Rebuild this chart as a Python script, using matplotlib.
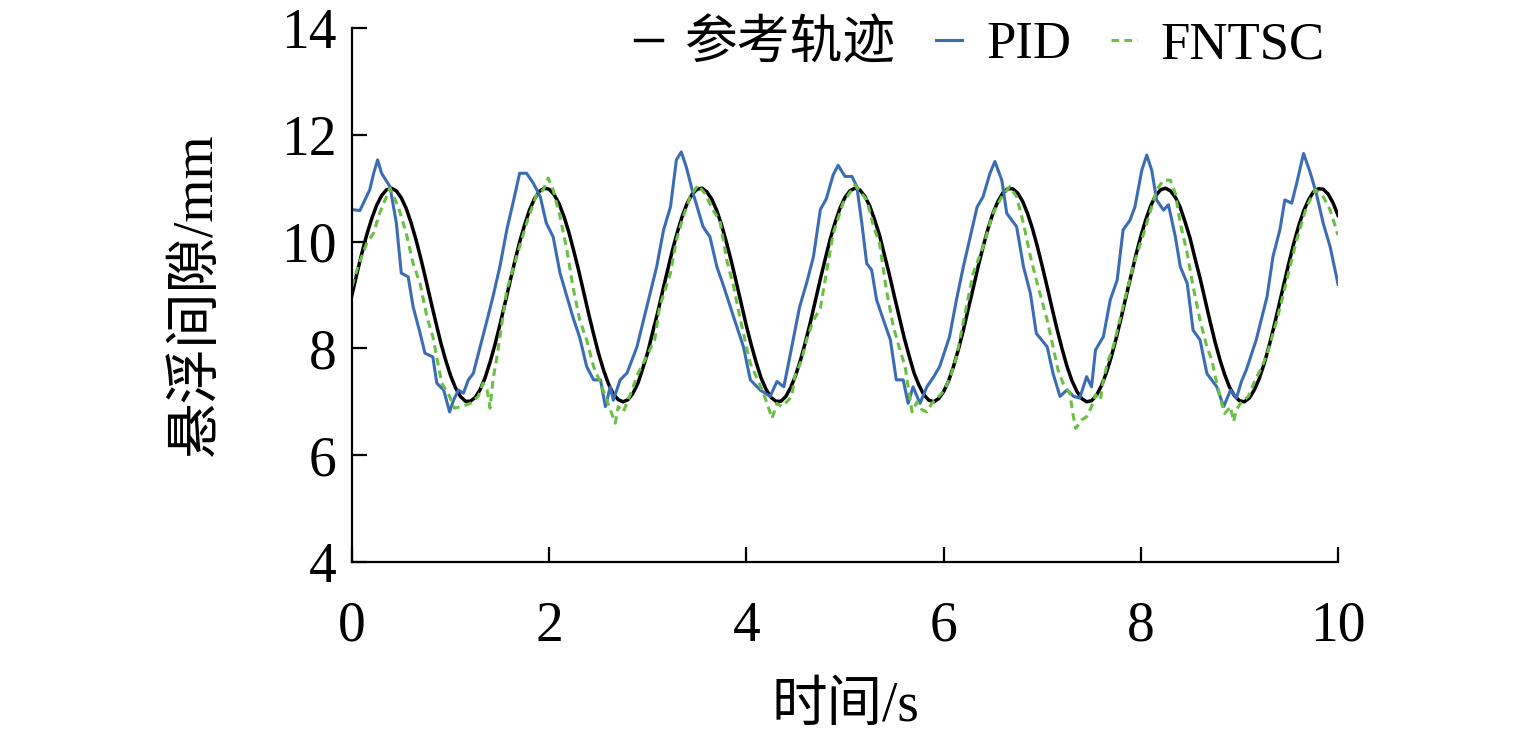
import numpy as np
import matplotlib
matplotlib.use('Agg')
import matplotlib.pyplot as plt

ref_t = [round(0.05 * i, 2) for i in range(201)]
ref_gap = [9.00, 9.40, 9.78, 10.13, 10.43, 10.68, 10.86, 10.97, 11.00, 10.95,
           10.82, 10.62, 10.35, 10.03, 9.67, 9.28, 8.88, 8.49, 8.11, 7.78,
           7.49, 7.26, 7.10, 7.01, 7.01, 7.08, 7.23, 7.45, 7.74, 8.07,
           8.44, 8.83, 9.23, 9.62, 9.99, 10.31, 10.59, 10.80, 10.94, 11.00,
           10.98, 10.88, 10.71, 10.47, 10.17, 9.82, 9.45, 9.05, 8.65, 8.27,
           7.91, 7.60, 7.34, 7.15, 7.04, 7.00, 7.04, 7.16, 7.35, 7.63,
           7.93, 8.31, 8.67, 9.07, 9.46, 9.84, 10.18, 10.48, 10.72, 10.89,
           10.98, 11.00, 10.93, 10.79, 10.58, 10.30, 9.97, 9.61, 9.22, 8.82,
           8.42, 8.06, 7.73, 7.44, 7.23, 7.08, 7.01, 7.01, 7.10, 7.27,
           7.50, 7.79, 8.13, 8.50, 8.90, 9.30, 9.68, 10.05, 10.36, 10.63,
           10.83, 10.95, 11.00, 10.97, 10.85, 10.67, 10.41, 10.12, 9.75, 9.38,
           8.98, 8.59, 8.20, 7.86, 7.54, 7.31, 7.13, 7.03, 7.00, 7.06,
           7.19, 7.39, 7.66, 7.98, 8.34, 8.74, 9.13, 9.53, 9.90, 10.24,
           10.53, 10.75, 10.91, 10.99, 10.99, 10.91, 10.76, 10.53, 10.25, 9.91,
           9.54, 9.15, 8.75, 8.36, 8.00, 7.67, 7.40, 7.20, 7.06, 7.00,
           7.02, 7.12, 7.30, 7.54, 7.84, 8.19, 8.57, 8.97, 9.36, 9.75,
           10.10, 10.41, 10.67, 10.86, 10.97, 11.00, 10.95, 10.83, 10.64, 10.36,
           10.06, 9.68, 9.32, 8.92, 8.52, 8.14, 7.80, 7.51, 7.27, 7.11,
           7.02, 7.00, 7.07, 7.22, 7.43, 7.71, 8.04, 8.41, 8.80, 9.20,
           9.59, 9.96, 10.29, 10.57, 10.78, 10.93, 10.99, 10.98, 10.89, 10.72,
           10.49]

# PID response
pid_t = [0.00, 0.08, 0.18, 0.22, 0.26, 0.30, 0.385, 0.45, 0.50, 0.57,
         0.62, 0.69, 0.74, 0.82, 0.86, 0.93, 0.99, 1.03, 1.08, 1.13,
         1.18, 1.23, 1.30, 1.37, 1.43, 1.50, 1.57, 1.64, 1.70, 1.77,
         1.84, 1.91, 1.97, 2.04, 2.11, 2.18, 2.24, 2.31, 2.38, 2.45,
         2.52, 2.57, 2.62, 2.65, 2.72, 2.79, 2.89, 2.99, 3.09, 3.16,
         3.23, 3.29, 3.34, 3.39, 3.46, 3.56, 3.63, 3.70, 3.77, 3.87,
         3.97, 4.04, 4.14, 4.24, 4.31, 4.38, 4.44, 4.54, 4.61, 4.68,
         4.75, 4.81, 4.88, 4.93, 5.00, 5.07, 5.12, 5.17, 5.22, 5.27,
         5.32, 5.39, 5.46, 5.52, 5.59, 5.64, 5.69, 5.76, 5.83, 5.90,
         5.96, 6.06, 6.13, 6.20, 6.27, 6.34, 6.40, 6.47, 6.52, 6.59,
         6.64, 6.74, 6.81, 6.88, 6.94, 7.05, 7.11, 7.18, 7.25, 7.32,
         7.38, 7.45, 7.50, 7.54, 7.62, 7.69, 7.76, 7.82, 7.89, 7.94,
         8.01, 8.06, 8.11, 8.16, 8.23, 8.28, 8.35, 8.40, 8.47, 8.53,
         8.60, 8.67, 8.77, 8.84, 8.91, 8.97, 9.02, 9.07, 9.17, 9.28,
         9.34, 9.41, 9.46, 9.53, 9.58, 9.65, 9.72, 9.78, 9.85, 9.92,
         10.00]
pid_gap = [10.60, 10.58, 10.97, 11.28, 11.53, 11.28, 11.03, 10.35, 9.41, 9.34,
           8.78, 8.29, 7.91, 7.84, 7.35, 7.22, 6.81, 7.03, 7.22, 7.16,
           7.41, 7.53, 8.03, 8.53, 8.97, 9.53, 10.22, 10.78, 11.28, 11.28,
           11.09, 10.84, 10.35, 10.09, 9.41, 8.97, 8.59, 8.20, 7.66, 7.41,
           7.41, 6.91, 7.28, 7.03, 7.41, 7.54, 8.03, 8.78, 9.53, 10.22,
           10.65, 11.53, 11.68, 11.40, 10.90, 10.28, 10.09, 9.53, 9.16, 8.59,
           8.03, 7.41, 7.22, 7.10, 7.38, 7.28, 7.84, 8.78, 9.22, 9.72,
           10.60, 10.80, 11.25, 11.43, 11.22, 11.22, 11.03, 10.35, 9.59, 9.47,
           8.91, 8.53, 8.16, 7.41, 7.41, 6.97, 7.28, 6.97, 7.28, 7.47,
           7.66, 8.22, 8.91, 9.53, 10.09, 10.65, 10.84, 11.28, 11.50, 11.15,
           10.53, 10.28, 9.53, 9.03, 8.28, 8.03, 7.53, 7.10, 7.22, 7.10,
           7.07, 7.47, 7.28, 7.97, 8.22, 8.91, 9.28, 10.22, 10.40, 10.65,
           11.34, 11.62, 11.34, 10.78, 10.59, 10.69, 10.09, 9.53, 9.22, 8.34,
           8.16, 7.53, 7.28, 6.91, 7.22, 7.07, 7.38, 7.60, 8.16, 8.97,
           9.72, 10.22, 10.78, 10.72, 11.09, 11.65, 11.28, 10.90, 10.34, 9.90,
           9.20]

# FNTSC response
fntsc_t = [0.00, 0.06, 0.15, 0.22, 0.28, 0.385, 0.47, 0.55, 0.62, 0.69,
           0.76, 0.82, 0.91, 0.99, 1.04, 1.11, 1.20, 1.28, 1.33, 1.37,
           1.40, 1.43, 1.47, 1.57, 1.67, 1.77, 1.87, 1.94, 1.99, 2.04,
           2.11, 2.18, 2.24, 2.31, 2.38, 2.45, 2.52, 2.57, 2.62, 2.67,
           2.70, 2.75, 2.80, 2.84, 2.90, 2.97, 3.07, 3.12, 3.23, 3.29,
           3.36, 3.43, 3.51, 3.58, 3.66, 3.73, 3.80, 3.87, 3.94, 4.00,
           4.04, 4.10, 4.16, 4.21, 4.26, 4.31, 4.36, 4.41, 4.46, 4.49,
           4.56, 4.61, 4.68, 4.75, 4.81, 4.88, 4.98, 5.10, 5.22, 5.29,
           5.35, 5.42, 5.49, 5.56, 5.61, 5.64, 5.68, 5.73, 5.78, 5.83,
           5.88, 5.95, 6.01, 6.08, 6.13, 6.20, 6.30, 6.40, 6.50, 6.59,
           6.67, 6.74, 6.81, 6.88, 6.94, 7.05, 7.11, 7.16, 7.21, 7.28,
           7.31, 7.34, 7.40, 7.45, 7.50, 7.54, 7.59, 7.62, 7.67, 7.72,
           7.82, 7.92, 8.03, 8.11, 8.16, 8.23, 8.30, 8.35, 8.40, 8.47,
           8.53, 8.60, 8.67, 8.72, 8.77, 8.82, 8.85, 8.91, 8.94, 8.97,
           9.02, 9.09, 9.16, 9.23, 9.29, 9.38, 9.48, 9.58, 9.68, 9.77,
           9.85, 9.92, 10.00]
fntsc_gap = [9.16, 9.53, 9.97, 10.16, 10.53, 11.00, 10.65, 10.16, 9.59, 9.22,
             8.59, 8.22, 7.35, 7.10, 6.88, 6.91, 6.97, 7.10, 7.35, 7.22,
             6.88, 7.41, 7.84, 9.09, 9.72, 10.34, 10.87, 10.97, 11.19, 10.97,
             10.47, 9.84, 9.16, 8.53, 8.16, 7.66, 7.35, 7.10, 6.85, 6.60,
             6.91, 6.81, 7.03, 7.22, 7.53, 7.78, 8.16, 8.78, 9.41, 10.03,
             10.47, 10.84, 11.06, 10.90, 10.59, 10.40, 9.66, 9.16, 8.53, 8.03,
             7.72, 7.47, 7.22, 6.97, 6.69, 6.97, 6.91, 7.00, 7.10, 7.47,
             7.78, 8.16, 8.53, 8.75, 9.41, 10.15, 10.72, 11.06, 10.78, 10.28,
             9.97, 9.09, 8.41, 7.95, 7.66, 7.28, 6.81, 7.00, 6.85, 6.81,
             6.97, 7.10, 7.22, 7.53, 7.84, 8.50, 9.41, 9.90, 10.53, 10.84,
             11.03, 10.84, 10.34, 9.72, 9.28, 8.53, 8.03, 7.60, 7.35, 7.16,
             6.78, 6.50, 6.66, 6.72, 6.91, 7.13, 7.03, 7.41, 7.78, 8.03,
             8.78, 9.53, 10.16, 10.65, 10.97, 11.15, 11.15, 10.90, 10.34, 9.78,
             9.16, 8.53, 8.03, 7.78, 7.35, 6.97, 6.78, 6.91, 6.63, 6.85,
             7.00, 7.10, 7.41, 7.66, 7.95, 8.53, 9.28, 10.03, 10.65, 10.97,
             10.84, 10.59, 10.12]

series_labels = ['参考轨迹', 'PID', 'FNTSC']
x_ticks = [0, 2, 4, 6, 8, 10]
y_ticks = [4, 6, 8, 10, 12, 14]

plt.rcParams['font.family'] = ['Liberation Serif', 'Noto Sans CJK SC']
plt.rcParams['font.size'] = 40


def make_plot():
    fig = plt.figure(figsize=(15.35, 7.41), dpi=100)
    ax = fig.add_axes([0.2293, 0.2416, 0.6424, 0.7206])

    ax.plot(ref_t, ref_gap, color='black', lw=2.5, label=series_labels[0])
    ax.plot(pid_t, pid_gap, color='#3b6db5', lw=2.2, label=series_labels[1])
    ax.plot(fntsc_t, fntsc_gap, color='#6cbf45', lw=2.2,
            linestyle=(0, (2.5, 1.7)), label=series_labels[2])

    ax.set_xlim(0, 10)
    ax.set_ylim(4, 14)
    ax.set_xticks(x_ticks)
    ax.set_yticks(y_ticks)
    ax.spines['top'].set_visible(False)
    ax.spines['right'].set_visible(False)
    ax.spines['left'].set_linewidth(1.6)
    ax.spines['bottom'].set_linewidth(1.6)
    ax.tick_params(direction='in', length=11, width=1.6)
    ax.tick_params(axis='x', pad=28)
    ax.tick_params(axis='y', pad=11)

    ax.set_xlabel('时间/s', labelpad=20)
    ax.set_ylabel('悬浮间隙/mm', labelpad=42)

    # legend sits inside the top-right corner, no frame
    ax.legend(loc='upper right', ncol=3, frameon=False, fontsize=38,
              handlelength=0.5, handletextpad=0.45, columnspacing=0.75,
              bbox_to_anchor=(1.008, 1.055), borderaxespad=0)

    fig.savefig('out.png', dpi=100)


if __name__ == "__main__":
    make_plot()
